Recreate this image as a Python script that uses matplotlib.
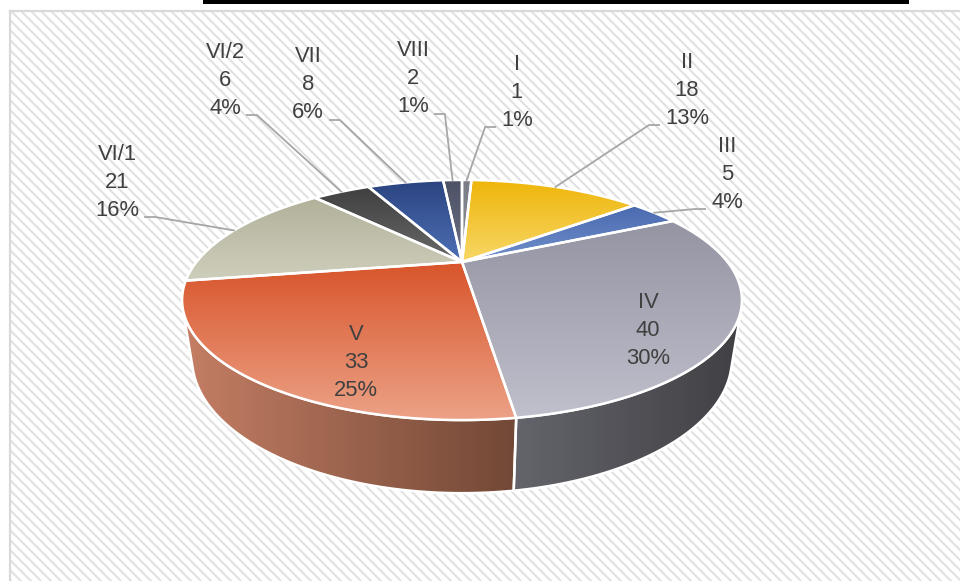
"""3D pie chart of category counts (I .. VIII)"""

import matplotlib

matplotlib.use("Agg")

import matplotlib.pyplot as plt
import numpy as np
from matplotlib.colors import to_rgb
from matplotlib.patches import Polygon, Rectangle

# ---- data ----
categories = ["I", "II", "III", "IV", "V", "VI/1", "VI/2", "VII", "VIII"]
values = [1, 18, 5, 40, 33, 21, 6, 8, 2]

# ---- style ----
top_colors = [  # (upper, lower) of the vertical gradient on each top face
    ("#797c84", "#90939a"),
    ("#efb60a", "#f7d766"),
    ("#4a69b0", "#7090cc"),
    ("#9494a2", "#c0c0cd"),
    ("#d8542a", "#eca287"),
    ("#b2b29b", "#cecebc"),
    ("#3f3f3f", "#6a6a6a"),
    ("#2b4480", "#4e70b6"),
    ("#4d5165", "#6c7083"),
]
side_colors = [  # (left, right) of the horizontal gradient on the rim
    ("#66686e", "#4a4c52"),
    ("#c9a030", "#a07a10"),
    ("#4a62a0", "#34487a"),
    ("#64646c", "#404044"),
    ("#c47e64", "#724836"),
    ("#9a9a86", "#7a7a68"),
    ("#505050", "#383838"),
    ("#34508e", "#22386a"),
    ("#555a6c", "#40445a"),
]

# label layout in pixels: centre of the middle text line
label_xy = [(517, 92), (687, 90), (727, 174), (648, 331), (356, 363),
            (117, 182), (225, 80), (308, 85), (413, 79)]
label_inside = [False, False, False, True, True, False, False, False, False]

W, H = 960, 581
DPI = 90            # hatch spacing scales with dpi; 90 gives ~5 px stripes
PT = 72 / DPI       # points per pixel
CX, CY = 462, 262
THETA = np.radians(24)
DIST, FOCAL, THICK = 2.885, 766.0, 0.238
S, C = np.sin(THETA), np.cos(THETA)
TEXT_COLOR = "#404040"
FONT = "Liberation Sans"


def proj(phi, z=0.0, r=1.0):
    """Perspective projection of a point on the disk (phi clockwise from far side)."""
    x, y = r * np.sin(phi), r * np.cos(phi)
    depth = DIST + y * C - z * S
    sx = CX + FOCAL * x / depth
    sy = CY - FOCAL * (y * S + z * C) / depth
    return np.column_stack([np.atleast_1d(sx), np.atleast_1d(sy)])


def grad_fill(ax, verts, c0, c1, vertical=True, z=2):
    poly = Polygon(verts, closed=True, facecolor="none", edgecolor="none")
    ax.add_patch(poly)
    x0, y0 = verts.min(axis=0)
    x1, y1 = verts.max(axis=0)
    t = np.linspace(0, 1, 256)[:, None]
    img = (1 - t) * np.array(to_rgb(c0)) + t * np.array(to_rgb(c1))
    img = img[:, None, :] if vertical else img[None, :, :]
    im = ax.imshow(img, extent=(x0, x1, y1, y0), origin="upper",
                   interpolation="bilinear", aspect="auto", zorder=z)
    im.set_clip_path(poly)
    ax.add_patch(Polygon(verts, closed=True, facecolor="none", edgecolor="white",
                         lw=2.5 * PT, joinstyle="round", zorder=z + 0.5))


fig = plt.figure(figsize=(W / DPI, H / DPI), dpi=DPI)
ax = fig.add_axes([0, 0, 1, 1])
ax.set_axis_off()

# background: hatched chart area with light border, black bar on top
plt.rcParams["hatch.color"] = "#e0e0e0"
plt.rcParams["hatch.linewidth"] = 2.0 * PT
ax.add_patch(Rectangle((10, 11), W, H, facecolor="white", edgecolor="#e0e0e0",
                       hatch="\\\\\\", lw=0, zorder=0))
ax.plot([10, W], [11, 11], color="#d9d9d9", lw=2.2 * PT, zorder=1)
ax.plot([10, 10], [11, H], color="#d9d9d9", lw=2.2 * PT, zorder=1)
ax.add_patch(Rectangle((203, 0), 706, 4, facecolor="black", edgecolor="none", zorder=1))

total = sum(values)
bounds = np.concatenate([[0], np.cumsum(values)]) / total * 2 * np.pi

# visible part of the rim
vis = np.arccos(-1.0 / (DIST * C))
vis_lo, vis_hi = vis, 2 * np.pi - vis

for i in range(len(values)):
    a0, a1 = max(bounds[i], vis_lo), min(bounds[i + 1], vis_hi)
    if a1 <= a0:
        continue
    phi = np.linspace(a0, a1, 80)
    verts = np.vstack([proj(phi), proj(phi[::-1], z=-THICK)])
    grad_fill(ax, verts, *side_colors[i], vertical=False, z=2)

for i in range(len(values)):
    phi = np.linspace(bounds[i], bounds[i + 1], max(int(values[i] * 4), 8))
    verts = np.vstack([[CX, CY], proj(phi)])
    grad_fill(ax, verts, *top_colors[i], vertical=True, z=4)

# labels
renderer = fig.canvas.get_renderer()
for i, name in enumerate(categories):
    pct = round(values[i] / total * 100)
    lines = [name, str(values[i]), f"{pct}%"]
    lx, ly = label_xy[i]
    texts = [ax.text(lx, ly + (k - 1) * 28, s, ha="center", va="center",
                     fontsize=22 * PT, color=TEXT_COLOR, family=FONT, zorder=8)
             for k, s in enumerate(lines)]
    if label_inside[i]:
        continue
    w = texts[-1].get_window_extent(renderer).width
    mid = (bounds[i] + bounds[i + 1]) / 2
    ax_, ay_ = proj(mid)[0]
    sgn = 1 if ax_ > lx else -1
    sx = lx + sgn * (w / 2 + 6)
    sy = ly + 28 + 7
    ax.plot([sx, sx + sgn * 10, ax_], [sy, sy, ay_], color="#a6a6a6", lw=1.8 * PT,
            solid_joinstyle="miter", zorder=7)

ax.set_xlim(0, W)
ax.set_ylim(H, 0)
fig.savefig("out.png", dpi=DPI)
